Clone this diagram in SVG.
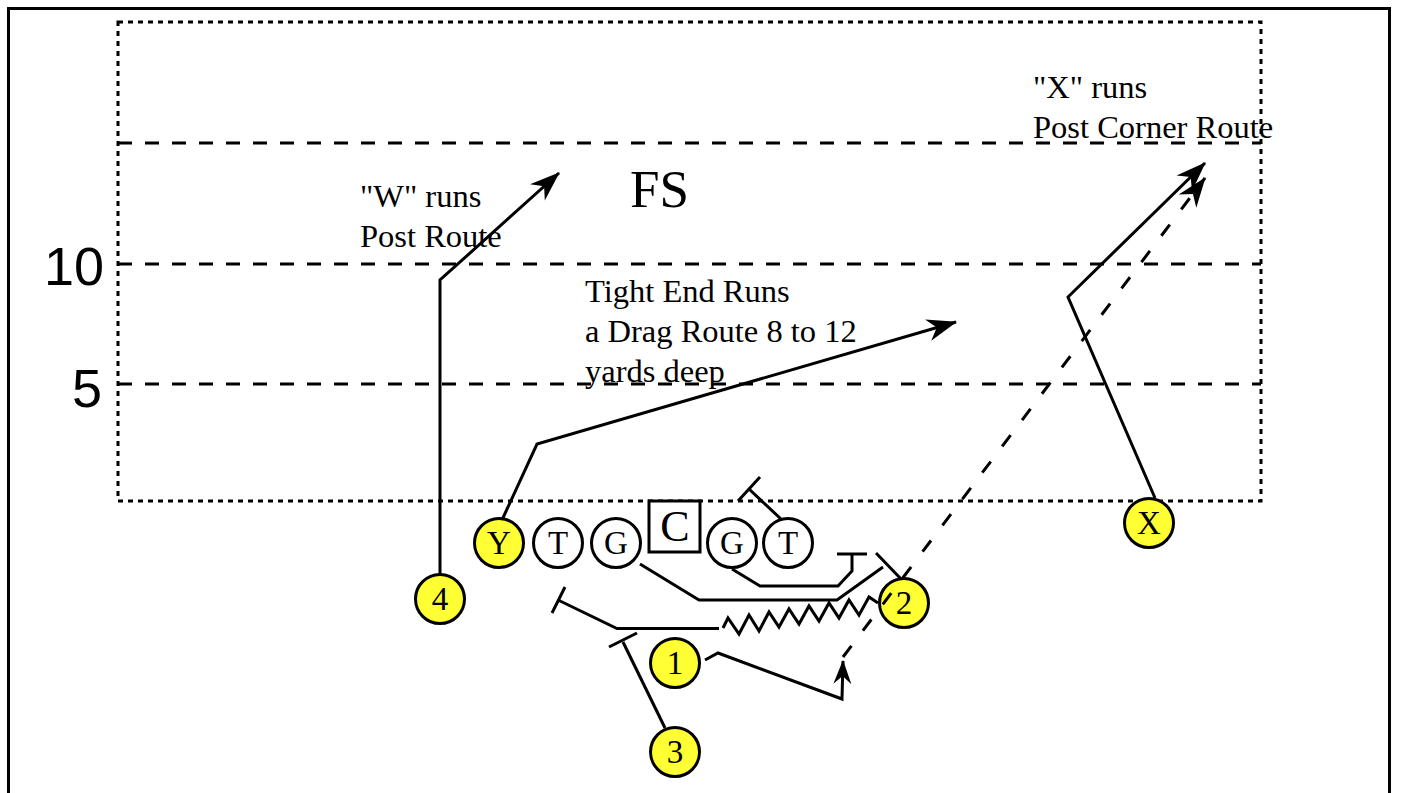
<svg xmlns="http://www.w3.org/2000/svg" width="1401" height="793" viewBox="0 0 1401 793">
<style>
.frame{fill:none;stroke:#000;stroke-width:3}
.dot{fill:none;stroke:#000;stroke-width:3;stroke-dasharray:5 5}
.yard{fill:none;stroke:#000;stroke-width:3;stroke-dasharray:14 13}
.ln{fill:none;stroke:#000;stroke-width:3;stroke-linejoin:miter}
.dl{fill:none;stroke:#000;stroke-width:3;stroke-dasharray:14 19}
.ol{fill:#fff;stroke:#000;stroke-width:3}
.sk{fill:#ffff33;stroke:#000;stroke-width:3}
.lab{font-family:"Liberation Serif","Times New Roman",serif;font-size:32.5px;fill:#000}
.pl{font-family:"Liberation Serif","Times New Roman",serif;font-size:33px;fill:#000;text-anchor:middle}
.num{font-family:"Liberation Sans",Arial,sans-serif;font-size:54px;fill:#000}
</style>
<defs>
<marker id="ah" markerUnits="userSpaceOnUse" viewBox="-34 -13 36 26" markerWidth="36" markerHeight="26" refX="0" refY="0" orient="auto" overflow="visible">
<path d="M1,0 L-29,-11 L-20,0 L-29,11 Z" fill="#000"/>
</marker>
<marker id="ahs" markerUnits="userSpaceOnUse" viewBox="-28 -11 30 22" markerWidth="30" markerHeight="22" refX="0" refY="0" orient="auto" overflow="visible">
<path d="M1,0 L-23,-9 L-15,0 L-23,9 Z" fill="#000"/>
</marker>
</defs>
<rect width="1401" height="793" fill="#fff"/>
<g id="field">
<rect class="frame" x="8.5" y="8.5" width="1381" height="900"/>
<rect class="dot" x="118" y="22" width="1143" height="479"/>
<line class="yard" x1="118" y1="143" x2="1261" y2="143"/>
<line class="yard" x1="118" y1="264" x2="1261" y2="264"/>
<line class="yard" x1="118" y1="384" x2="1261" y2="384"/>
<text class="num" x="44" y="285">10</text>
<text class="num" x="72" y="407">5</text>
</g>
<g id="labels">
<text class="lab" x="360" y="207">"W" runs</text>
<text class="lab" x="360" y="247">Post Route</text>
<text class="lab" x="630" y="207" style="font-size:53px">FS</text>
<text class="lab" x="585" y="302">Tight End Runs</text>
<text class="lab" x="585" y="342">a Drag Route 8 to 12</text>
<text class="lab" x="585" y="382">yards deep</text>
<text class="lab" x="1033" y="98">"X" runs</text>
<text class="lab" x="1033" y="138">Post Corner Route</text>
</g>
<g id="connectors">
<polyline class="ln" points="440,575 440,280 559,173" marker-end="url(#ah)"/>
<polyline class="ln" points="502,520 537,444 956,322" marker-end="url(#ah)"/>
<polyline class="ln" points="1155,498 1068,297 1205,163" marker-end="url(#ah)"/>
<polyline class="ln" points="782,520 749,489"/>
<line class="ln" x1="738" y1="501" x2="760" y2="477"/>
<polyline class="ln" points="732,569 760,586 838,586 852,571 852,554"/>
<line class="ln" x1="837" y1="554" x2="867" y2="554"/>
<polyline class="ln" points="640,564 699,600 837,600 883,567"/>
<line class="ln" x1="876" y1="553" x2="902" y2="580"/>
<polyline class="ln" points="558,600 617,628.5 719,628.5"/>
<line class="ln" x1="552" y1="613" x2="565" y2="587"/>
<polyline class="ln" points="723,628 728,618 739,634 749,615 759,631 769,612 779,627 789,609 799,624 809,606 819,621 829,603 839,618 849,600 859,615 869,597 878,603"/>
<polyline class="ln" points="665,728 623,642"/>
<line class="ln" x1="609" y1="647" x2="637" y2="633"/>
<polyline class="ln" points="705,660 718,653 842,699 843,661" marker-end="url(#ahs)"/>
</g>
<g id="nodes">
<g id="n-Y"><circle class="sk" cx="499" cy="543" r="24.5"/><text class="pl" x="499" y="554">Y</text></g>
<g id="n-T1"><circle class="ol" cx="558" cy="543" r="24.5"/><text class="pl" x="558" y="554">T</text></g>
<g id="n-G1"><circle class="ol" cx="616" cy="543" r="24.5"/><text class="pl" x="616" y="554">G</text></g>
<g id="n-C"><rect class="ol" x="649" y="501" width="51" height="51"/><text class="pl" x="675" y="541" style="font-size:44px">C</text></g>
<g id="n-G2"><circle class="ol" cx="732" cy="543" r="24.5"/><text class="pl" x="732" y="554">G</text></g>
<g id="n-T2"><circle class="ol" cx="788" cy="543" r="24.5"/><text class="pl" x="788" y="554">T</text></g>
<g id="n-X"><circle class="sk" cx="1149" cy="523" r="24.5"/><text class="pl" x="1149" y="534">X</text></g>
<g id="n-4"><circle class="sk" cx="440" cy="599" r="24.5"/><text class="pl" x="440" y="610">4</text></g>
<g id="n-2"><circle class="sk" cx="904" cy="603" r="24.5"/><text class="pl" x="904" y="614">2</text></g>
<g id="n-1"><circle class="sk" cx="675" cy="663" r="24.5"/><text class="pl" x="675" y="674">1</text></g>
<g id="n-3"><circle class="sk" cx="675" cy="752" r="24.5"/><text class="pl" x="675" y="763">3</text></g>
</g>
<g id="connectors-over">
<line class="dl" x1="843" y1="657" x2="1205" y2="178" marker-end="url(#ah)"/>
</g>
</svg>
